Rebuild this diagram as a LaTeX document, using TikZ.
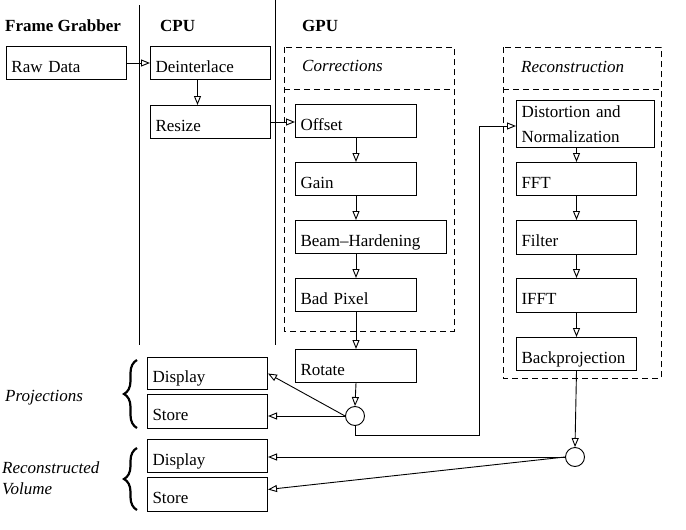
\documentclass[tikz,border=0pt]{standalone}
\usepackage{fontspec}
\setmainfont{Liberation Serif}
\usetikzlibrary{arrows.meta,decorations.pathreplacing}
\begin{document}
\begin{tikzpicture}[x=1pt,y=-1pt,
  font=\fontsize{17}{20}\selectfont,
  box/.style={draw, line width=1pt, rectangle, anchor=north west, inner xsep=5pt, inner ysep=0pt, align=left},
  one/.style={text height=18pt, text depth=0pt},
  dashbox/.style={draw, line width=1pt, dash pattern=on 6pt off 4pt},
  arr/.style={line width=0.9pt, -{Triangle[open,length=9pt,width=7pt,line width=0.9pt]}},
  conn/.style={line width=0.9pt},
  hdr/.style={anchor=base west, inner sep=0pt, font=\fontsize{17}{20}\selectfont\bfseries},
  ital/.style={anchor=base west, inner sep=0pt, font=\fontsize{17}{20}\selectfont\itshape},
  jn/.style={draw, circle, line width=0.9pt, minimum size=19pt, inner sep=0pt},
  br/.style={decorate, decoration={brace, amplitude=13pt}, line width=2.2pt}
]
\useasboundingbox (0,0) rectangle (686,530);

% column separators
\draw[conn] (139,5) -- (139,345);
\draw[conn] (275,0) -- (275,345);

% headers
\node[hdr] (hfg) at (5,31) {Frame Grabber};
\node[hdr] (hcpu) at (160,31) {CPU};
\node[hdr] (hgpu) at (302,31) {GPU};

% dashed groups
\draw[dashbox] (284,47) rectangle (454,331);
\draw[dashbox] (284,89) -- (454,89);
\node[ital] (tcorr) at (302,71) {Corrections};
\draw[dashbox] (503,47) rectangle (661,378);
\draw[dashbox] (503,89) -- (661,89);
\node[ital] (trec) at (521,72) {Reconstruction};

% boxes
\node[box,one,minimum width=120pt,minimum height=33pt,text width=110pt] (raw) at (6,46) {Raw Data};
\node[box,one,minimum width=120pt,minimum height=33pt,text width=110pt] (deint) at (150,46) {Deinterlace};
\node[box,one,minimum width=120pt,minimum height=33pt,text width=110pt] (resize) at (150,105) {Resize};

\node[box,one,minimum width=121pt,minimum height=33pt,text width=111pt] (offset) at (295,104) {Offset};
\node[box,one,minimum width=121pt,minimum height=33pt,text width=111pt] (gain) at (295,162) {Gain};
\node[box,one,minimum width=151pt,minimum height=33pt,text width=141pt] (beam) at (295,220) {Beam--Hardening};
\node[box,one,minimum width=121pt,minimum height=33pt,text width=111pt] (bad) at (295,278) {Bad Pixel};
\node[box,one,minimum width=121pt,minimum height=33pt,text width=111pt] (rotate) at (295,349) {Rotate};

\node[box,minimum width=138pt,minimum height=47pt,text width=128pt,font=\fontsize{17}{25}\selectfont] (dist) at (516,100) {Distortion and\\Normalization};
\node[box,one,minimum width=120pt,minimum height=33pt,text width=110pt] (fft) at (516,162) {FFT};
\node[box,one,minimum width=120pt,minimum height=34pt,text width=110pt] (filter) at (516,220) {Filter};
\node[box,one,minimum width=120pt,minimum height=34pt,text width=110pt] (ifft) at (516,278) {IFFT};
\node[box,one,minimum width=120pt,minimum height=33pt,text width=110pt] (backp) at (516,337) {Backprojection};

\node[box,one,minimum width=120pt,minimum height=32pt,text width=110pt] (pdisp) at (147,357) {Display};
\node[box,one,minimum width=120pt,minimum height=34pt,text width=110pt] (pstore) at (147,394) {Store};
\node[box,one,minimum width=120pt,minimum height=33pt,text width=110pt] (rdisp) at (147,439) {Display};
\node[box,one,minimum width=120pt,minimum height=34pt,text width=110pt] (rstore) at (147,477) {Store};

% junctions
\node[jn] (c1) at (355,416) {};
\node[jn] (c2) at (575,457) {};

% side labels and braces
\node[ital] (lproj) at (5,401) {Projections};
\node[ital] (lrec1) at (2,473) {Reconstructed};
\node[ital] (lrec2) at (2,494) {Volume};
\draw[br] (137,428) -- (137,360);
\draw[br] (137,510) -- (137,448);

% connectors
\draw[arr] (raw.east) -- (deint.west);
\draw[arr] ([xshift=-13pt]deint.south) -- ([xshift=-13pt]resize.north);
\draw[arr] (resize.east) -- (offset.west |- resize.east);
\draw[arr] (offset.south) -- (gain.north);
\draw[arr] (gain.south) -- (beam.north -| gain.south);
\draw[arr] (beam.south -| gain.south) -- (bad.north);
\draw[arr] (bad.south) -- (rotate.north);
\draw[arr] (rotate.south) -- (c1.north);

\draw[arr] (dist.south -| fft.north) -- (fft.north);
\draw[arr] (fft.south) -- (filter.north);
\draw[arr] (filter.south) -- (ifft.north);
\draw[arr] (ifft.south) -- (backp.north);
\draw[arr] (backp.south) -- (c2.north);

\coordinate (lp) at (479,435);
\draw[arr] (c1.south) |- (lp) |- ([yshift=-2pt]dist.west);

\draw[arr] (c1.west) -- (pdisp.east);
\draw[arr] (c1.west) -- (pstore.east |- c1.west);
\draw[arr] (c2.west) -- (rdisp.east |- c2.west);
\draw[arr] (c2.west) -- ([yshift=5pt]rstore.east);
\end{tikzpicture}
\end{document}
